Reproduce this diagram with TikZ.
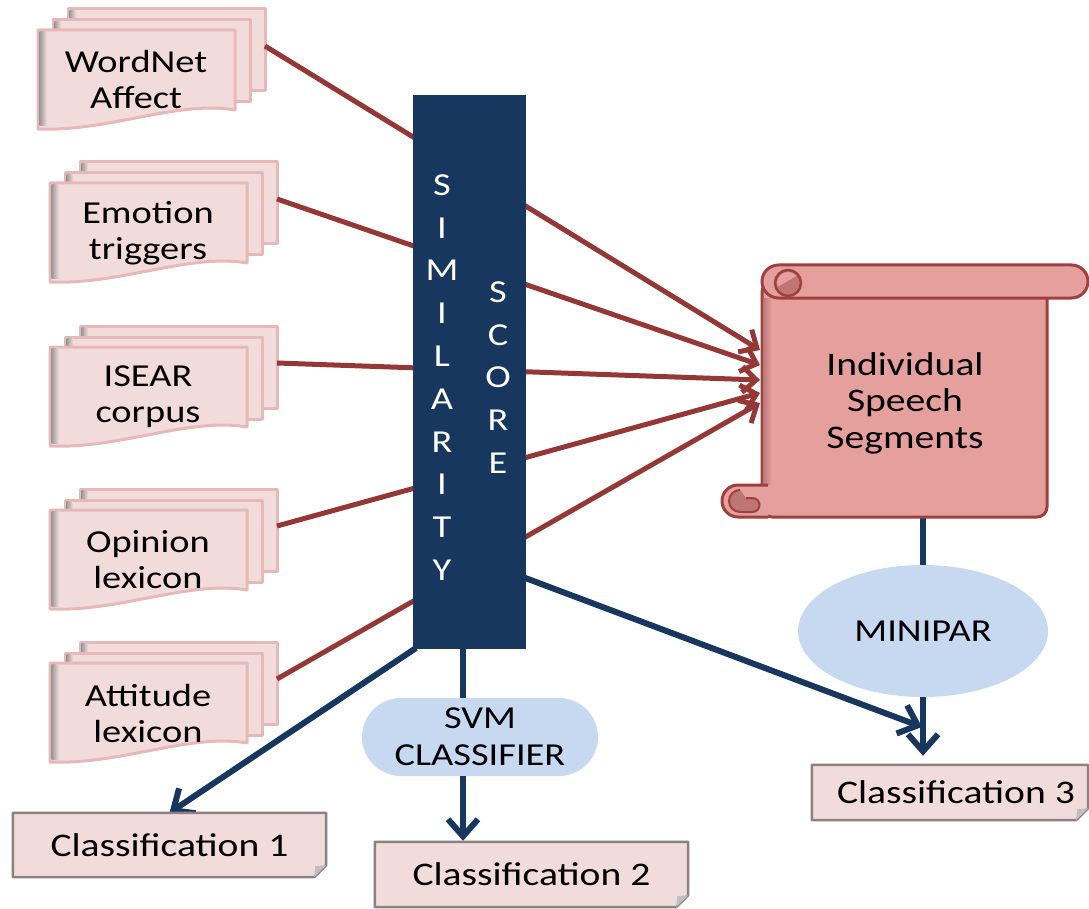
\documentclass[tikz,border=0pt]{standalone}
\usepackage{fontspec}
\setmainfont{Carlito}[FakeStretch=1.2]
\usetikzlibrary{arrows.meta,shapes.geometric}

\definecolor{navy}{HTML}{17375E}
\definecolor{wine}{HTML}{953735}
\definecolor{sheetfill}{HTML}{F2DCDB}
\definecolor{sheetedge}{HTML}{E6B9B8}
\definecolor{scrollfill}{HTML}{E5A09E}
\definecolor{scrolledge}{HTML}{A0403E}
\definecolor{scrollcurl}{HTML}{BF7573}
\definecolor{paleblue}{HTML}{C6D9F1}
\definecolor{boxedge}{HTML}{8C8080}

\tikzset{
  sheet/.style={fill=sheetfill, draw=sheetedge, line width=3pt, line join=round},
  sheetshade/.style={left color=black!40, right color=sheetfill},
  doctext/.style={align=center, inner sep=0pt, font=\fontsize{32}{36}\selectfont},
  feed/.style={draw=wine, line width=5pt},
  feedarrow/.style={feed, -{Straight Barb[length=14pt,width=26pt]}},
  flow/.style={draw=navy, line width=6pt},
  flowarrow/.style={flow, -{Straight Barb[length=17pt,width=30pt]}},
  oval/.style={fill=paleblue, align=center, inner sep=0pt, font=\fontsize{32}{37}\selectfont},
  result/.style={inner sep=0pt, font=\fontsize{33}{36}\selectfont},
  resultbox/.style={fill=sheetfill, draw=boxedge, line width=2.5pt, line join=round},
  letters/.style={text=white, align=center, inner sep=0pt, font=\fontsize{32}{42.8}\selectfont},
  scrollpart/.style={fill=scrollfill, draw=scrolledge, line width=3pt, line join=round},
}

% A stack of three sheets; #1 name, (#2,#3) top-left of the front sheet, #4 text
\newcommand\docstack[4]{%
  \filldraw[sheet] ({#2+30},{#3-21}) rectangle ({#2+227},{#3+61});
  \shade[sheetshade] ({#2+31.5},{#3-19.5}) rectangle ({#2+38},{#3+59.5});
  \filldraw[sheet] ({#2+15},{#3-10}) rectangle ({#2+212},{#3+72});
  \shade[sheetshade] ({#2+16.5},{#3-8.5}) rectangle ({#2+23},{#3+70.5});
  \filldraw[sheet] (#2,#3) -- ({#2+197},#3) -- ({#2+197},{#3+80})
     .. controls ({#2+140},{#3+70}) and ({#2+70},{#3+102}) .. (#2,{#3+99}) -- cycle;
  \shade[sheetshade] ({#2+1.5},{#3+1.5}) rectangle ({#2+9},{#3+96});
  \node[doctext] (#1) at ({#2+98},{#3+50}) {#4};
  \coordinate (#1-out) at ({#2+227},{#3+16});
}

% Result box with a folded lower right corner
\newcommand\resultoutline[1]{%
  \filldraw[resultbox] (#1.north west) -- (#1.north east) -- ([yshift=12pt]#1.south east)
    -- ([xshift=-12pt]#1.south east) -- (#1.south west) -- cycle;
  \fill[black!25] ([yshift=12pt]#1.south east) -- ([xshift=-12pt]#1.south east)
    -- ([xshift=-11pt,yshift=11pt]#1.south east) -- cycle;
}

\begin{document}
\begin{tikzpicture}[x=1pt,y=-1pt]
\useasboundingbox (0,0) rectangle (1089,909);

% lexicon stacks
\docstack{wn}{38}{30}{WordNet\\Affect}
\docstack{et}{50}{183}{Emotion\\triggers}
\docstack{is}{50}{347}{ISEAR\\corpus}
\docstack{op}{50}{510}{Opinion\\lexicon}
\docstack{al}{50}{663}{Attitude\\lexicon}

% arrow ends on the scroll
\coordinate (in1) at (760,350);
\coordinate (in2) at (760,365);
\coordinate (in3) at (760,380);
\coordinate (in4) at (760,393);
\coordinate (in5) at (760,403);

\draw[feedarrow] (wn-out) -- (in1);
\draw[feedarrow] (et-out) -- (in2);
\draw[feedarrow] (is-out) -- (in3);
\draw[feedarrow] (op-out) -- (in4);
\draw[feedarrow] (al-out) -- (in5);

% result boxes and blue nodes
\node[result, minimum width=313pt, minimum height=64pt] (c1) at (169.5,845) {};
\node[result, minimum width=313pt, minimum height=65pt] (c2) at (531.5,874.5) {};
\node[result, minimum width=276pt, minimum height=55pt] (c3) at (950,792.5) {};
\node[oval, ellipse, minimum width=250pt, minimum height=132pt] (mp) at (923,631) {MINIPAR};
\node[oval, rectangle, rounded corners=39pt, minimum width=236pt, minimum height=78pt] (svm) at (480,737) {SVM\\CLASSIFIER};

% navy connectors
\coordinate (b1) at (416,648);
\coordinate (b2) at (463,645);
\coordinate (b3) at (520,576);
\coordinate (m3) at (922,727);
\coordinate (segfoot) at (923,515);
\draw[flowarrow] (b1) -- (c1.north);
\draw[flow] (b2) -- (b2 |- svm.north);
\draw[flowarrow] (svm.south -| b2) -- ([yshift=1pt]c2.north -| b2);
\draw[flowarrow] (b3) -- (m3);
\draw[flow] (segfoot) -- (mp.north);
\draw[flowarrow, shorten >=9pt] (mp.south) -- (c3.north -| mp.south);

% similarity score bar
\node[fill=navy, minimum width=113pt, minimum height=554pt, inner sep=0pt] (bar) at (469.5,372) {};
\node[letters] (sim) at (442,377.5) {S\\I\\M\\I\\L\\A\\R\\I\\T\\Y};
\node[letters] (score) at (498,377.5) {S\\C\\O\\R\\E};

% scroll
\filldraw[scrollpart, rounded corners=10pt] (762,282) rectangle (1047,517);
\shade[left color=scrolledge!70, right color=scrollfill] (763.5,298) rectangle (772,484);
\filldraw[scrollpart] (768,485) -- (738,485) arc[start angle=90, end angle=270, radius=16pt] -- (768,517);
\filldraw[fill=scrollcurl, draw=scrolledge, line width=2pt] (740,490) arc[start angle=90, end angle=270, radius=11pt]
   -- (752,512) .. controls (762,512) and (762,498) .. (752,498) -- (746,498);
\filldraw[scrollpart, rounded corners=16.5pt] (762,265) rectangle (1088,298);
\filldraw[fill=scrollcurl, draw=scrolledge, line width=2.5pt] (788,283) circle[radius=13pt];
\fill[scrollfill] (788,283) ++(40:11pt) arc[start angle=40, end angle=200, radius=11pt] -- cycle;
\node[align=center, inner sep=0pt, font=\fontsize{33}{36.5}\selectfont] (seg) at (905,403) {Individual\\Speech\\Segments};

% result boxes
\resultoutline{c1}
\resultoutline{c2}
\resultoutline{c3}
\node[result] (t1) at (c1) {Classification 1};
\node[result] (t2) at (c2) {Classification 2};
\node[result] (t3) at ([xshift=6pt]c3.center) {Classification 3};
\end{tikzpicture}
\end{document}
